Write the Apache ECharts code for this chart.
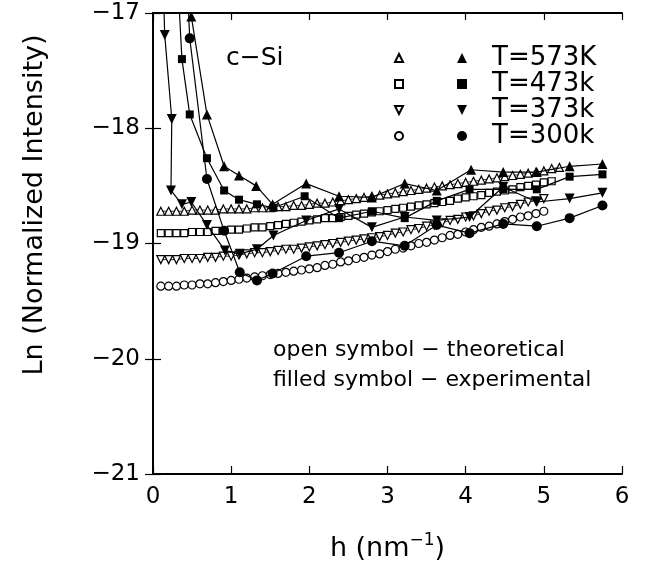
<!DOCTYPE html>
<html>
<head>
<meta charset="utf-8">
<script src="https://cdn.jsdelivr.net/npm/echarts@6/dist/echarts.min.js"></script>
<style>html,body{margin:0;padding:0;background:#fff;}#c{width:645px;height:571px;}</style>
</head>
<body>
<div id="c"></div>
<script>
// ---- data ----
const xTicks = [0, 1, 2, 3, 4, 5, 6];
const yTicks = [-21, -20, -19, -18, -17];

// theoretical (open symbols), common h grid
const hTheory = [0.1,0.2,0.3,0.4,0.5,0.6,0.7,0.8,0.9,1.0,1.1,1.2,1.3,1.4,1.5,1.6,1.7,1.8,1.9,2.0,2.1,2.2,2.3,2.4,2.5,2.6,2.7,2.8,2.9,3.0,3.1,3.2,3.3,3.4,3.5,3.6,3.7,3.8,3.9,4.0,4.1,4.2,4.3,4.4,4.5,4.6,4.7,4.8,4.9,5.0,5.1,5.2];
const th573 = [-18.72,-18.72,-18.72,-18.72,-18.71,-18.71,-18.71,-18.71,-18.70,-18.70,-18.70,-18.70,-18.69,-18.69,-18.69,-18.68,-18.68,-18.67,-18.67,-18.66,-18.65,-18.65,-18.64,-18.63,-18.62,-18.61,-18.60,-18.59,-18.58,-18.57,-18.56,-18.55,-18.54,-18.53,-18.52,-18.51,-18.50,-18.49,-18.48,-18.47,-18.46,-18.45,-18.44,-18.43,-18.42,-18.41,-18.40,-18.39,-18.38,-18.37,-18.35,-18.34];
const th473 = [-18.91,-18.91,-18.91,-18.91,-18.90,-18.90,-18.90,-18.89,-18.89,-18.88,-18.88,-18.87,-18.86,-18.86,-18.85,-18.84,-18.83,-18.82,-18.81,-18.80,-18.79,-18.78,-18.78,-18.77,-18.76,-18.75,-18.74,-18.73,-18.72,-18.71,-18.70,-18.69,-18.68,-18.67,-18.66,-18.65,-18.64,-18.63,-18.61,-18.60,-18.59,-18.58,-18.56,-18.55,-18.54,-18.53,-18.51,-18.50,-18.49,-18.47,-18.46];
const th373 = [-19.14,-19.14,-19.14,-19.13,-19.13,-19.13,-19.12,-19.12,-19.11,-19.11,-19.10,-19.09,-19.08,-19.08,-19.07,-19.06,-19.05,-19.05,-19.04,-19.03,-19.02,-19.01,-19.00,-18.99,-18.98,-18.97,-18.96,-18.95,-18.94,-18.93,-18.91,-18.90,-18.88,-18.87,-18.85,-18.84,-18.82,-18.80,-18.79,-18.77,-18.76,-18.74,-18.72,-18.71,-18.69,-18.68,-18.66,-18.64,-18.63,-18.61];
const th300 = [-19.37,-19.37,-19.37,-19.36,-19.36,-19.35,-19.35,-19.34,-19.33,-19.32,-19.31,-19.30,-19.29,-19.28,-19.27,-19.26,-19.25,-19.24,-19.23,-19.22,-19.21,-19.19,-19.18,-19.16,-19.15,-19.13,-19.12,-19.10,-19.09,-19.07,-19.05,-19.04,-19.02,-19.00,-18.99,-18.97,-18.95,-18.93,-18.92,-18.90,-18.88,-18.86,-18.85,-18.83,-18.81,-18.79,-18.77,-18.76,-18.74,-18.72];

// experimental (filled symbols)
const h573 = [0.40,0.49,0.69,0.91,1.10,1.32,1.53,1.96,2.38,2.80,3.22,3.63,4.07,4.48,4.91,5.33,5.75];
const ex573 = [-16.5,-17.03,-17.88,-18.33,-18.41,-18.50,-18.66,-18.48,-18.59,-18.60,-18.48,-18.54,-18.36,-18.38,-18.38,-18.33,-18.31];
const h473 = [0.30,0.37,0.47,0.69,0.91,1.10,1.33,1.54,1.94,2.38,2.80,3.22,3.63,4.05,4.48,4.91,5.33,5.75];
const ex473 = [-16.5,-17.40,-17.88,-18.26,-18.54,-18.62,-18.66,-18.69,-18.59,-18.78,-18.72,-18.78,-18.63,-18.53,-18.53,-18.53,-18.42,-18.40];
const h373 = [0.12,0.15,0.24,0.23,0.37,0.49,0.69,0.92,1.11,1.33,1.54,1.96,2.38,2.80,3.22,3.63,4.05,4.48,4.91,5.33,5.75];
const ex373 = [-16.5,-17.19,-17.92,-18.54,-18.66,-18.64,-18.84,-19.06,-19.09,-19.05,-18.93,-18.80,-18.70,-18.86,-18.77,-18.80,-18.77,-18.51,-18.64,-18.61,-18.56];
const h300 = [0.42,0.47,0.69,0.91,1.11,1.33,1.53,1.96,2.38,2.80,3.22,3.63,4.05,4.48,4.91,5.33,5.75];
const ex300 = [-16.5,-17.22,-18.44,-18.89,-19.25,-19.32,-19.26,-19.11,-19.08,-18.98,-19.02,-18.84,-18.91,-18.83,-18.85,-18.78,-18.67];

const expNames = ['T=573K', 'T=473k', 'T=373k', 'T=300k'];
const thNames = ['573K theoretical', '473k theoretical', '373k theoretical', '300k theoretical'];

// ---- chart ----
const FONT = 'DejaVu Sans';
const DOWN = 'path://M0,0L10,0L5,10Z';
const symbols = ['triangle', 'rect', DOWN, 'circle'];

function pair(hs, vs) { return vs.map((v, i) => [hs[i], v]); }

const thData = [th573, th473, th373, th300];
const exH = [h573, h473, h373, h300];
const exV = [ex573, ex473, ex373, ex300];

const series = [];
thData.forEach((arr, k) => {
  series.push({
    name: thNames[k], type: 'line', data: pair(hTheory, arr),
    symbol: symbols[k], symbolSize: k === 1 ? 7 : 8, showSymbol: true,
    itemStyle: { color: '#fff', borderColor: '#000', borderWidth: 1.2 },
    lineStyle: { color: '#000', width: 0.8 }, z: 2, clip: true, silent: true
  });
});
exV.forEach((arr, k) => {
  series.push({
    name: expNames[k], type: 'line', data: pair(exH[k], arr),
    symbol: symbols[k], symbolSize: k === 1 ? 8 : 10, showSymbol: true,
    itemStyle: { color: '#000', borderColor: '#000', borderWidth: 0 },
    lineStyle: { color: '#000', width: 1.2 }, z: 3, clip: true, silent: true
  });
});

const axisLine = { show: true, lineStyle: { color: '#000', width: 2 } };
const tickStyle = { color: '#000', width: 1.2 };
const labelFont = { fontFamily: FONT, fontSize: 23, color: '#000' };

const option = {
  animation: false,
  backgroundColor: '#fff',
  grid: { left: 153, right: 23, top: 13, bottom: 94 },
  xAxis: [
    { type: 'value', min: xTicks[0], max: xTicks[xTicks.length - 1], interval: 1,
      axisLine: axisLine, axisTick: { inside: true, length: 8, lineStyle: tickStyle },
      splitLine: { show: false },
      axisLabel: Object.assign({ margin: 12 }, labelFont),
      name: 'h (nm{sup|−1})', nameLocation: 'middle', nameGap: 58,
      nameTextStyle: { fontFamily: FONT, fontSize: 27, color: '#000', lineHeight: 34,
        rich: { sup: { fontFamily: FONT, fontSize: 17, color: '#000', verticalAlign: 'top', lineHeight: 17 } } }
    },
    { type: 'value', position: 'top', min: xTicks[0], max: xTicks[xTicks.length - 1], interval: 1,
      axisLine: axisLine, axisTick: { inside: true, length: 7, lineStyle: tickStyle },
      axisLabel: { show: false }, splitLine: { show: false } }
  ],
  yAxis: [
    { type: 'value', min: yTicks[0], max: yTicks[yTicks.length - 1], interval: 1,
      axisLine: axisLine, axisTick: { inside: true, length: 8, lineStyle: tickStyle },
      splitLine: { show: false },
      axisLabel: Object.assign({ margin: 13, formatter: v => (v < 0 ? '−' : '') + Math.abs(v) }, labelFont)
    },
    { type: 'value', position: 'right', min: yTicks[0], max: yTicks[yTicks.length - 1], interval: 1,
      axisLine: axisLine, axisTick: { inside: true, length: 8, lineStyle: tickStyle },
      axisLabel: { show: false }, splitLine: { show: false } }
  ],
  legend: [
    { orient: 'vertical', left: 389, top: 40, itemWidth: 8, itemHeight: 8, itemGap: 0,
      selectedMode: false,
      data: thNames.map((n, k) => ({ name: n, icon: symbols[k] })),
      formatter: () => ' ',
      textStyle: { fontFamily: FONT, fontSize: 26, lineHeight: 19.5, color: '#000' } },
    { orient: 'vertical', left: 452, top: 40, itemWidth: 10, itemHeight: 10, itemGap: 0,
      selectedMode: false,
      data: expNames.map((n, k) => ({ name: n, icon: symbols[k] })),
      textStyle: { fontFamily: FONT, fontSize: 26, lineHeight: 19.5, color: '#000', padding: [0, 0, 0, 20] } }
  ],
  graphic: [
    { type: 'text', left: 226, top: 46, style: { text: 'c−Si', fontFamily: FONT, fontSize: 25, fill: '#000' } },
    { type: 'text', x: 273, y: 350, style: { text: 'open symbol − theoretical', fontFamily: FONT, fontSize: 22, fill: '#000', verticalAlign: 'middle' } },
    { type: 'text', x: 273, y: 380, style: { text: 'filled symbol − experimental', fontFamily: FONT, fontSize: 22, fill: '#000', verticalAlign: 'middle' } },
    { type: 'text', x: 35, y: 205, rotation: Math.PI / 2,
      style: { text: 'Ln (Normalized Intensity)', fontFamily: FONT, fontSize: 27, fill: '#000', align: 'center', verticalAlign: 'middle' } }
  ],
  series: series
};

const chart = echarts.init(document.getElementById('c'), null, { renderer: 'canvas' });
chart.setOption(option);
</script>
</body>
</html>
